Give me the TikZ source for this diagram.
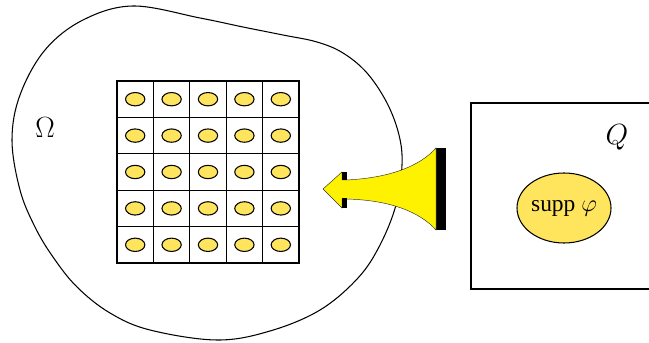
\documentclass[tikz,border=0pt]{standalone}
\usepackage{amsmath}
\usepackage{fontspec}
\setmainfont{Liberation Serif}
\usepackage{tikz}
\usetikzlibrary{shapes.geometric, positioning}
\definecolor{supp}{HTML}{FFE45E}

\begin{document}
\begin{tikzpicture}[x=0.03cm,y=-0.03cm,
        cell/.style={draw,line width=1pt,minimum size=1.092cm,inner sep=0pt},
        dot/.style={ellipse,draw,line width=0.9pt,fill=supp,minimum width=0.58cm,minimum height=0.4cm,inner sep=0pt},
        bigtext/.style={font=\fontsize{20}{24}\selectfont},
        symbtext/.style={font=\fontsize{23}{27}\selectfont}]

  \useasboundingbox (0,0) rectangle (649,343);

  % the domain
  \draw[line width=0.9pt] plot[smooth cycle,tension=0.6] coordinates {
      (133,6) (200,18) (243,27) (283,35) (317,42) (343,53) (367,73)
      (387,103) (399,135) (402,165) (396,205) (380,245) (358,278)
      (320,310) (270,331) (217,340) (150,330) (110,313) (77,287)
      (53,257) (35,227) (20,190) (12,140) (20,95) (45,50) (83,20)};
  \node[symbtext] (omega) at (45,128) {\(\Omega\)};

  % the grid of cells
  \foreach \i in {0,...,4} {
    \foreach \j in {0,...,4} {
      \node[cell] (cell-\i-\j) at ({135.2+36.4*\i},{99.2+36.4*\j}) {};
      \node[dot] (dot-\i-\j) at (cell-\i-\j.center) {};
    }
  }

  % the cube Q
  \coordinate (qtr) at (649,103);
  \coordinate (qbr) at (649,289);
  \draw[line width=0.9pt] (qtr) -- (471,103) -- (471,289) -- (qbr);
  \node[symbtext] (qlabel) at (617,137) {\(Q\)};
  \node[ellipse,draw,line width=0.9pt,fill=supp,minimum width=2.82cm,minimum height=2.1cm,inner sep=0pt,bigtext]
      (support) at (564,208) {supp \(\varphi\)};

  % the arrow
  \fill[black] (436,148) rectangle (446,230);
  \filldraw[fill=yellow,draw=black!80,line width=0.4pt]
      (323,189) -- (342,172) -- (342,180) -- (346,180)
      .. controls (390,178) and (420,166) .. (436,148) -- (436,230)
      .. controls (420,212) and (390,200) .. (346,199)
      -- (342,199) -- (342,208) -- cycle;
  \fill[black] (342,172) rectangle (347,180.5);
  \fill[black] (342,198.5) rectangle (347,208);
\end{tikzpicture}
\end{document}
